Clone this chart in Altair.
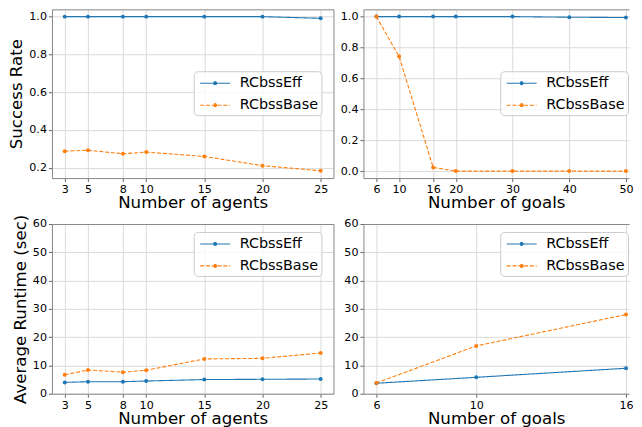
import altair as alt
import pandas as pd

series_names = ["RCbssEff", "RCbssBase"]
series_colors = ["#1f77b4", "#ff7f0e"]

agents = [3, 5, 8, 10, 15, 20, 25]
success_agents_eff = [1.0, 1.0, 1.0, 1.0, 1.0, 1.0, 0.991]
success_agents_base = [0.288, 0.293, 0.274, 0.283, 0.260, 0.211, 0.184]

goals = [6, 10, 16, 20, 30, 40, 50]
success_goals_eff = [1.0, 1.0, 1.0, 1.0, 1.0, 0.996, 0.994]
success_goals_base = [1.0, 0.741, 0.024, 0.0, 0.0, 0.0, 0.0]

runtime_agents_eff = [4.0, 4.25, 4.25, 4.5, 5.0, 5.1, 5.2]
runtime_agents_base = [6.7, 8.4, 7.6, 8.3, 12.3, 12.5, 14.4]

goals_rt = [6, 10, 16]
runtime_goals_eff = [3.7, 5.8, 9.0]
runtime_goals_base = [3.8, 16.9, 28.0]

success_ticks_agents = [0.2, 0.4, 0.6, 0.8, 1.0]
success_ticks_goals = [0.0, 0.2, 0.4, 0.6, 0.8, 1.0]
runtime_ticks = [0, 10, 20, 30, 40, 50, 60]

FONT = "DejaVu Sans"
SPINE = "#888888"
SYMBOL_PATH = ("M-0.69,0H3.06M1.375,0L1.32,0.134L1.185,0.19L1.05,0.134L0.995,0"
               "L1.05,-0.134L1.185,-0.19L1.32,-0.134Z")
FILL_EXPR = "datum.value === 'RCbssEff' ? '#1f77b4' : '#ff7f0e'"


def make_legend(lx, ly):
    return alt.Legend(
        orient="none", legendX=lx, legendY=ly,
        symbolType=SYMBOL_PATH, symbolSize=256, symbolStrokeWidth=1.1,
        symbolOpacity=1, symbolFillColor=alt.ExprRef(expr=FILL_EXPR),
        labelFont=FONT, labelFontSize=14.4, labelColor="black",
        labelOffset=25, rowPadding=6, padding=3,
        fillColor="rgba(255,255,255,0.8)", strokeColor="#cccccc",
        cornerRadius=4,
    )


def panel(xv, eff, base, x_title, y_title, x_dom, y_dom, y_ticks, y_fmt,
          lx, ly, w, h, right_spine):
    n = len(xv)
    df = pd.DataFrame({
        "x": list(xv) + list(xv),
        "y": list(eff) + list(base),
        "series": [series_names[0]] * n + [series_names[1]] * n,
    })
    leg = make_legend(lx, ly)
    color = alt.Color("series:N", title=None, legend=leg,
                      scale=alt.Scale(domain=series_names, range=series_colors))
    dash = alt.StrokeDash("series:N", title=None, legend=leg,
                          scale=alt.Scale(domain=series_names, range=[[1, 0], [4, 1.8]]))
    xs = alt.Scale(domain=x_dom, nice=False, zero=False)
    ys = alt.Scale(domain=y_dom, nice=False, zero=False)
    x = alt.X("x:Q", scale=xs, axis=alt.Axis(values=list(xv), format="d", title=x_title))
    y_axis = alt.Axis(values=y_ticks, format=y_fmt, title=y_title)
    y = alt.Y("y:Q", scale=ys, axis=y_axis)
    x_top = alt.X("x:Q", scale=xs, axis=alt.Axis(orient="top", labels=False, ticks=False,
                                                  grid=False, title=None))
    if right_spine:
        y2 = alt.Y("y:Q", scale=ys, axis=alt.Axis(orient="right", labels=False, ticks=False,
                                                   grid=False, title=None))
    else:
        y2 = y
    b = alt.Chart(df)
    line = b.mark_line(strokeWidth=1.1).encode(x=x, y=y, color=color, strokeDash=dash)
    pts = b.mark_circle(size=16, opacity=1).encode(x=x_top, y=y2, color=color)
    lay = alt.layer(line, pts).properties(width=w, height=h)
    if right_spine:
        lay = lay.resolve_axis(x="independent", y="independent")
    else:
        lay = lay.resolve_axis(x="independent")
    return lay


tl = panel(agents, success_agents_eff, success_agents_base, "Number of agents",
           "Success Rate", [1.9, 26.1], [0.1456, 1.0386], success_ticks_agents, ".1f",
           142, 62, 282, 169, True)
tr = panel(goals, success_goals_eff, success_goals_base, "Number of goals",
           None, [3.71, 50.54], [-0.045, 1.047], success_ticks_goals, ".1f",
           137, 62, 266, 169, False)
bl = panel(agents, runtime_agents_eff, runtime_agents_base, "Number of agents",
           "Average Runtime (sec)", [1.9, 26.1], [0, 60], runtime_ticks, "d",
           142, 8, 282, 170, True)
br = panel(goals_rt, runtime_goals_eff, runtime_goals_base, "Number of goals",
           None, [5.48, 16.12], [0, 60], runtime_ticks, "d",
           137, 8, 266, 170, False)

chart = (
    alt.concat(tl, tr, bl, br, columns=2, bounds="flush",
               spacing={"row": 46, "column": 30})
    .resolve_scale(color="independent", strokeDash="independent")
    .resolve_legend(color="independent", strokeDash="independent")
    .properties(padding=0, background="white")
    .configure(font=FONT)
    .configure_view(stroke="transparent")
    .configure_axis(
        labelFont=FONT, titleFont=FONT, labelFontSize=11.1, titleFontSize=16.67,
        titleFontWeight="normal", labelColor="black", titleColor="black",
        tickColor="#666666", tickSize=3.5, labelPadding=2,
        domain=True, domainColor=SPINE, domainWidth=1,
        gridColor="#dadada", gridWidth=1, labelOverlap=False, labelFlush=False,
    )
    .configure_axisX(titlePadding=0)
    .configure_axisY(titlePadding=3)
)

chart.save("out.html", embed_options={"renderer": "svg", "actions": False})
